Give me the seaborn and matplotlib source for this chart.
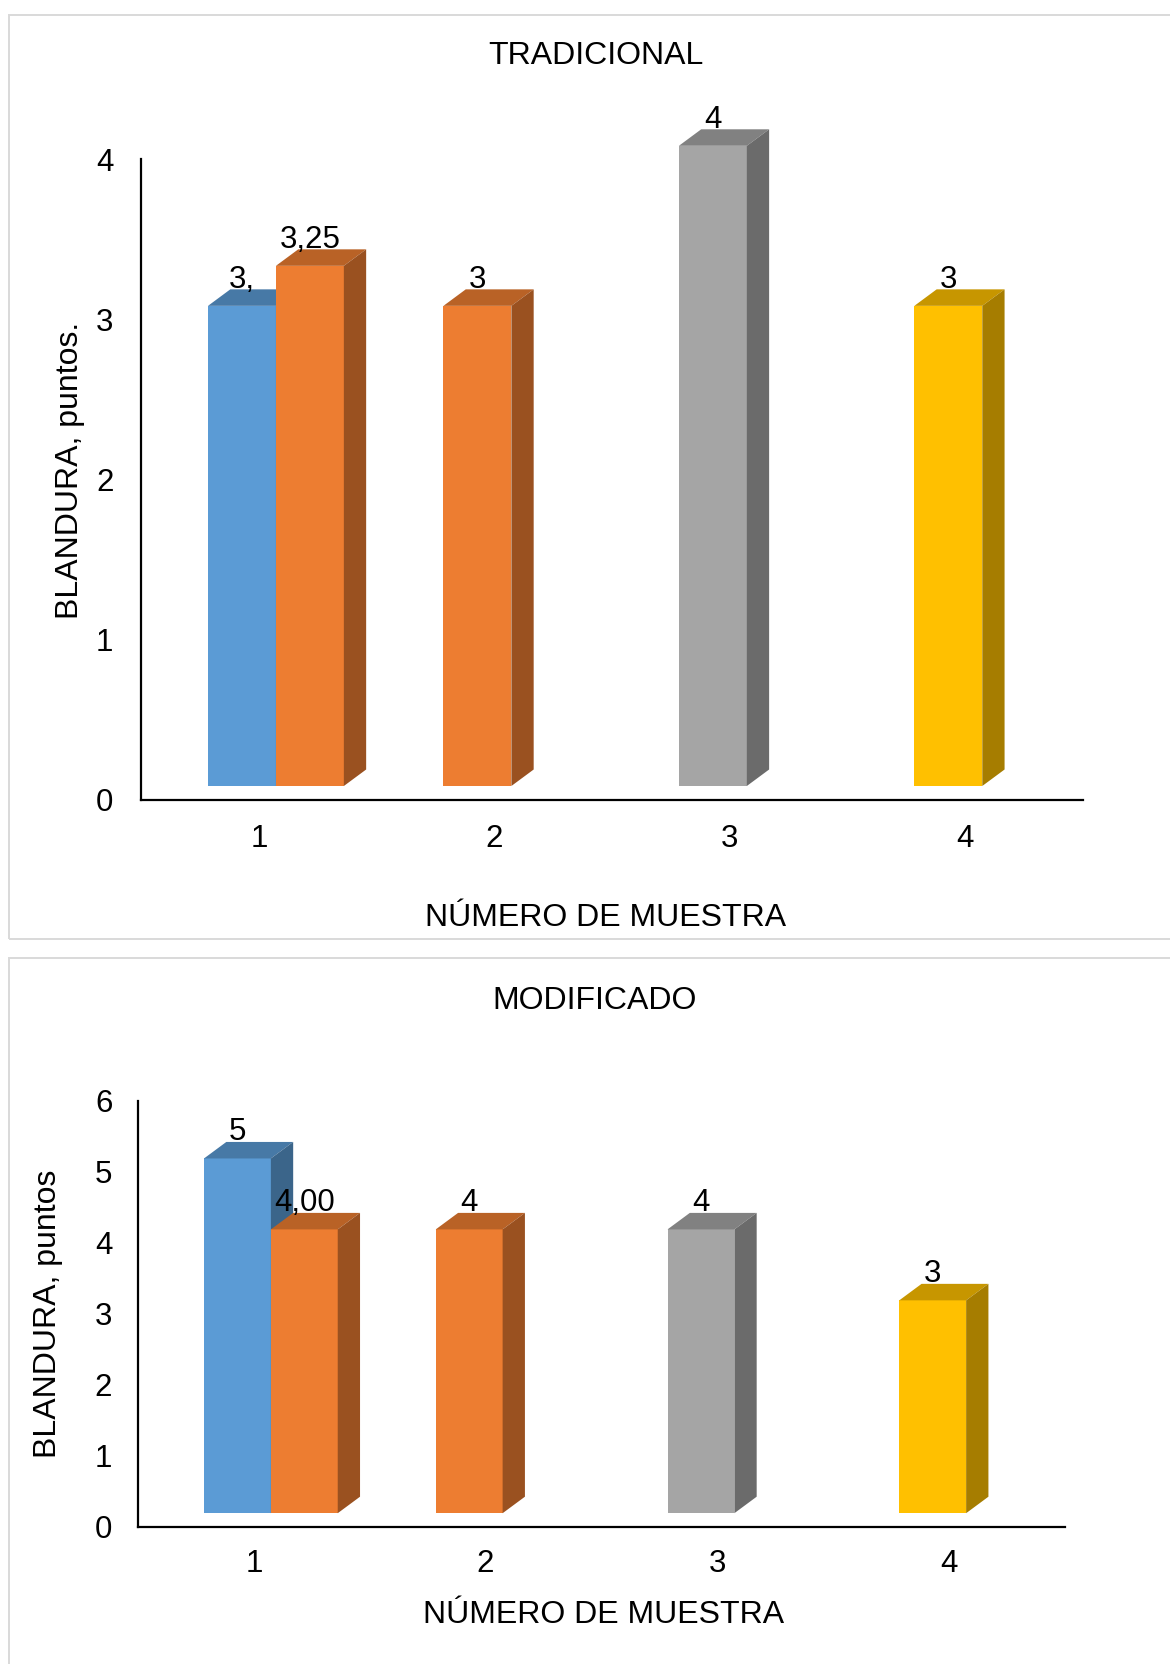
import numpy as np
import pandas as pd
import matplotlib
matplotlib.use("Agg")
import matplotlib.pyplot as plt
from matplotlib.patches import Polygon, Rectangle
from matplotlib.colors import to_rgb
import seaborn as sns

# ---- data -------------------------------------------------------------
muestras = ["1", "2", "3", "4"]

# TRADICIONAL
trad_serie1 = [3, 3, 4, 3]
trad_serie2 = [3.25]            # second series only exists for sample 1
trad_etiq1 = ["3,", "3", "4", "3"]
trad_etiq2 = ["3,25"]

# MODIFICADO
mod_serie1 = [5, 4, 4, 3]
mod_serie2 = [4.00]
mod_etiq1 = ["5", "4", "4", "3"]
mod_etiq2 = ["4,00"]

colores_puntos = ["#5B9BD5", "#ED7D31", "#A5A5A5", "#FFC000"]
color_serie2 = "#ED7D31"

# ---- style ------------------------------------------------------------
sns.set_style("white")
plt.rcParams["font.family"] = ["Liberation Sans", "DejaVu Sans"]
plt.rcParams["text.color"] = "black"
plt.rcParams["axes.labelcolor"] = "black"
plt.rcParams["xtick.color"] = "black"
plt.rcParams["ytick.color"] = "black"

W, H = 1170, 1664
fig = plt.figure(figsize=(W / 100, H / 100), dpi=100)

FS_TXT = 23
FS_TICK = 22.5
FS_LAB = 22.5

DEPTH_X, DEPTH_Y = 22.3, 16.5      # pixels of the 3-D extrusion
SHIFT_X, SHIFT_Y = 17.0, 13.5      # front face offset from the floor


def shade(c, f):
    return tuple(np.clip(np.array(to_rgb(c)) * f, 0, 1))


def frame(x0, y0, x1, y1):
    fig.patches.append(Rectangle((x0 / W, 1 - y1 / H), (x1 - x0) / W, (y1 - y0) / H,
                                 transform=fig.transFigure, fill=False,
                                 edgecolor="#D9D9D9", linewidth=1.4))


def panel(rect_px, serie1, serie2, etiq1, etiq2, ymax, titulo, title_xy,
          ylabel, xlab_coords, ylab_coords, xpad, ypad):
    left, top, right, bottom = rect_px
    ax = fig.add_axes([left / W, 1 - bottom / H, (right - left) / W, (bottom - top) / H])

    df = pd.DataFrame({
        "muestra": muestras + muestras[:len(serie2)],
        "valor": list(serie1) + list(serie2),
        "serie": ["A"] * len(serie1) + ["B"] * len(serie2),
    })
    sns.barplot(data=df, x="muestra", y="valor", hue="serie", order=muestras,
                hue_order=["A", "B"], width=0.577, gap=0, dodge=True,
                errorbar=None, legend=False, palette=[colores_puntos[0], color_serie2],
                ax=ax)
    ax.set_xlim(-0.5, 3.5)
    ax.set_ylim(0, ymax)

    ux = 4.0 / (right - left)
    uy = ymax / (bottom - top)
    ddx, ddy = DEPTH_X * ux, DEPTH_Y * uy
    sx, sy = SHIFT_X * ux, SHIFT_Y * uy

    idx2 = 0
    for patch in list(ax.patches):
        w = patch.get_width()
        h = patch.get_height()
        if not np.isfinite(h):
            continue
        xc = patch.get_x() + w / 2
        cat = int(round(xc))
        serie = 0 if xc < cat else 1
        if serie == 0:
            col = colores_puntos[cat]
            lab = etiq1[cat]
        else:
            col = color_serie2
            lab = etiq2[idx2]
            idx2 += 1
        z = 2 + serie
        x0 = patch.get_x() + sx
        x1 = x0 + w
        y0 = sy
        y1 = sy + h
        patch.set_x(x0)
        patch.set_y(y0)
        patch.set_facecolor(col)
        patch.set_edgecolor("none")
        patch.set_zorder(z)
        patch.set_clip_on(False)
        top_face = Polygon([(x0, y1), (x1, y1), (x1 + ddx, y1 + ddy), (x0 + ddx, y1 + ddy)],
                           closed=True, facecolor=shade(col, 0.78), edgecolor="none",
                           zorder=z, clip_on=False)
        side_face = Polygon([(x1, y0), (x1 + ddx, y0 + ddy), (x1 + ddx, y1 + ddy), (x1, y1)],
                            closed=True, facecolor=shade(col, 0.65), edgecolor="none",
                            zorder=z, clip_on=False)
        ax.add_patch(top_face)
        ax.add_patch(side_face)
        ax.text((x0 + x1) / 2, y1 + ddy + 1.5 * uy, lab, ha="center", va="baseline",
                fontsize=FS_LAB, color="black", zorder=10, clip_on=False)

    ax.set_yticks(range(0, ymax + 1))
    ax.set_yticklabels([str(v) for v in range(0, ymax + 1)])
    ax.tick_params(axis="both", length=0, labelsize=FS_TICK, colors="black")
    ax.tick_params(axis="x", pad=xpad)
    ax.tick_params(axis="y", pad=ypad)
    for s in ("top", "right"):
        ax.spines[s].set_visible(False)
    for s in ("left", "bottom"):
        ax.spines[s].set_color("black")
        ax.spines[s].set_linewidth(1.6)
        ax.spines[s].set_zorder(1)
    ax.set_facecolor("none")

    ax.set_xlabel("NÚMERO DE MUESTRA", fontsize=FS_TXT, va="center", color="black")
    ax.xaxis.set_label_coords(*xlab_coords)
    ax.set_ylabel(ylabel, fontsize=FS_TXT, va="center", color="black")
    ax.yaxis.set_label_coords(*ylab_coords)

    fig.text(title_xy[0] / W, 1 - title_xy[1] / H, titulo, ha="center", va="center",
             fontsize=FS_TXT, color="black")
    return ax


frame(8.5, 15, 1200, 938.5)
frame(8.5, 957.5, 1200, 1700)

panel((141.2, 159.3, 1083.0, 799.5), trad_serie1, trad_serie2, trad_etiq1, trad_etiq2,
      4, "TRADICIONAL", (595.6, 56), "BLANDURA, puntos.",
      (0.4935, -0.1855), (-0.0756, 0.5147), 17.5, 20.0)

panel((138.0, 1101.0, 1065.0, 1526.7), mod_serie1, mod_serie2, mod_etiq1, mod_etiq2,
      6, "MODIFICADO", (594.6, 1001), "BLANDURA, puntos",
      (0.5027, -0.2074), (-0.0971, 0.4997), 16.0, 18.5)

fig.savefig("out.png", dpi=100, facecolor="white")
